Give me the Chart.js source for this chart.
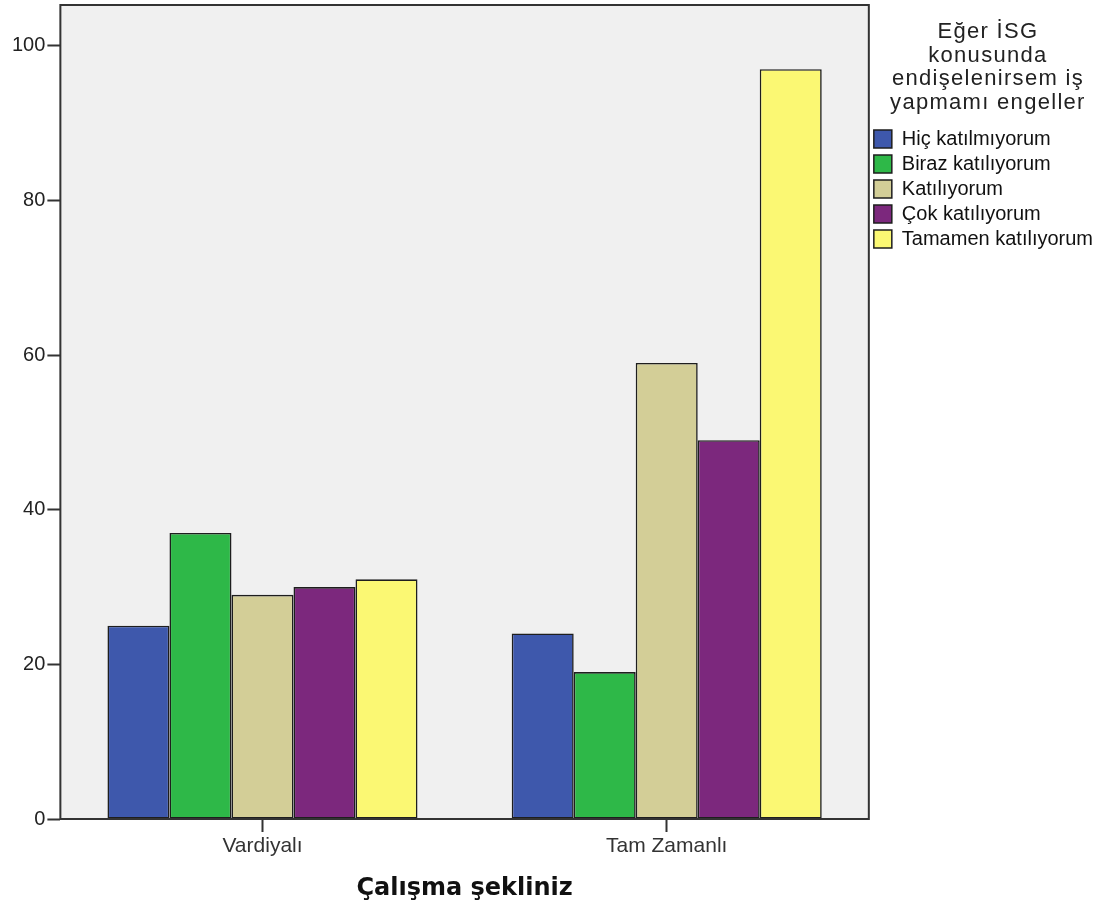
<!DOCTYPE html>
<html>
<head>
<meta charset="utf-8">
<title>Çalışma şekliniz</title>
<script src="https://cdn.jsdelivr.net/npm/chart.js@4/dist/chart.umd.min.js"></script>
<style>
  body { margin: 0; background: #fff; }
  canvas { display: block; }
</style>
</head>
<body>
<canvas id="myChart" width="1107" height="911"></canvas>
<script>
// clustered bar chart: answers by working type

var categories = ['Vardiyalı', 'Tam Zamanlı'];
var legendTitle = ['Eğer İSG', 'konusunda', 'endişelenirsem iş', 'yapmamı engeller'];
var yTicks = [0, 20, 40, 60, 80, 100];

var hicKatilmiyorum = [25, 24];
var birazKatiliyorum = [37, 19];
var katiliyorum = [29, 59];
var cokKatiliyorum = [30, 49];
var tamamenKatiliyorum = [31, 97];

var font = 'Arial, "Liberation Sans", sans-serif';

// grey plot background, the black frame round it, and the legend title
var plotFrame = {
  id: 'plotFrame',
  beforeDraw: function(chart) {
    var a = chart.chartArea
    var ctx = chart.ctx
    ctx.save()
    ctx.fillStyle = '#f0f0f0'
    ctx.fillRect(a.left, a.top, a.right - a.left, a.bottom - a.top)
    ctx.restore()
  },
  afterDraw: function(chart) {
    var a = chart.chartArea
    var ctx = chart.ctx
    ctx.save()
    ctx.strokeStyle = '#333'
    ctx.lineWidth = 2
    ctx.strokeRect(a.left, a.top, a.right - a.left, a.bottom - a.top)

    // legend title, several lines, a little spaced out like the original
    var lg = chart.legend
    ctx.fillStyle = '#222'
    ctx.font = '22px ' + font
    ctx.letterSpacing = '1.3px'
    ctx.textAlign = 'center'
    ctx.textBaseline = 'middle'
    for (var i = 0; i < legendTitle.length; i++) {
      ctx.fillText(legendTitle[i], lg.left + lg.width / 2 + 2, lg.top + 27 + i * 23.5)
    }
    ctx.restore()
  }
}

function bars(label, data, color) {
  return {
    label: label,
    data: data,
    backgroundColor: color,
    borderColor: '#1e1e1e',
    borderWidth: 1.6,
    borderSkipped: false,
    categoryPercentage: 0.767,
    barPercentage: 1
  }
}

var ctx = document.getElementById('myChart').getContext('2d');
var myBarChart = new Chart(ctx, {
  type: 'bar',
  data: {
    labels: categories,
    datasets: [
      bars('Hiç katılmıyorum', hicKatilmiyorum, '#3e58ac'),
      bars('Biraz katılıyorum', birazKatiliyorum, '#2eb848'),
      bars('Katılıyorum', katiliyorum, '#d3ce97'),
      bars('Çok katılıyorum', cokKatiliyorum, '#7c287d'),
      bars('Tamamen katılıyorum', tamamenKatiliyorum, '#fbf873')
    ]
  },
  options: {
    responsive: false,
    animation: false,
    layout: {
      padding: { left: 10, top: 5, right: 4, bottom: 4 }
    },
    plugins: {
      tooltip: { enabled: false },
      legend: {
        position: 'right',
        align: 'start',
        // empty title only keeps room for the one drawn above
        title: {
          display: true,
          text: '',
          font: { family: font, size: 20, lineHeight: 1.2 },
          padding: { top: 17, bottom: 78 }
        },
        labels: {
          boxWidth: 18,
          boxHeight: 18,
          padding: 5,
          color: '#111',
          font: { family: font, size: 20 },
          generateLabels: function(chart) {
            return chart.data.datasets.map(function(ds, i) {
              return {
                text: ds.label,
                fillStyle: ds.backgroundColor,
                strokeStyle: '#1e1e1e',
                fontColor: '#111',
                lineWidth: 1.5,
                datasetIndex: i
              }
            })
          }
        }
      }
    },
    scales: {
      x: {
        offset: true,
        border: { display: false },
        grid: {
          display: true,
          offset: false,
          drawOnChartArea: false,
          drawTicks: true,
          tickLength: 13,
          tickColor: '#333',
          tickWidth: 2
        },
        ticks: {
          color: '#333',
          padding: 2,
          font: { family: font, size: 21 }
        },
        title: {
          display: true,
          text: 'Çalışma şekliniz',
          color: '#111',
          font: { family: '"DejaVu Sans", sans-serif', size: 24, weight: 'bold' },
          padding: { top: 13, bottom: 4 }
        }
      },
      y: {
        min: 0,
        max: 105.3,
        border: { display: false },
        afterBuildTicks: function(scale) {
          scale.ticks = yTicks.map(function(v) { return { value: v } })
        },
        afterFit: function(scale) {
          // no room kept above the top of the frame
          scale.paddingTop = 0
        },
        grid: {
          display: true,
          drawOnChartArea: false,
          drawTicks: true,
          tickLength: 13,
          tickColor: '#333',
          tickWidth: 2
        },
        ticks: {
          color: '#222',
          padding: 2,
          font: { family: font, size: 20 }
        }
      }
    }
  },
  plugins: [plotFrame]
})
</script>
</body>
</html>
